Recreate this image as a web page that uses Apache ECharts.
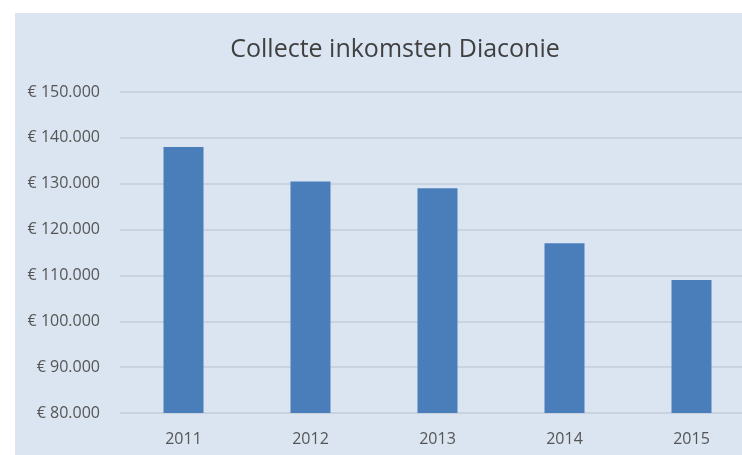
<!DOCTYPE html>
<html>
<head>
<meta charset="utf-8">
<script src="https://cdn.jsdelivr.net/npm/echarts@6/dist/echarts.min.js"></script>
<style>
html,body{margin:0;padding:0;background:#fff;}
#wrap{position:relative;width:742px;height:455px;overflow:hidden;background:#fff;}
#chart{position:absolute;left:15px;top:13px;width:760px;height:442px;}
</style>
</head>
<body>
<div id="wrap"><div id="chart"></div></div>
<script>
const title = 'Collecte inkomsten Diaconie';
const categories = ['2011', '2012', '2013', '2014', '2015'];
const values = [138000, 130500, 129000, 117000, 109000];
const yMin = 80000, yMax = 150000, yStep = 10000;

function euro(v) {
  const s = String(Math.round(v)).replace(/\B(?=(\d{3})+(?!\d))/g, '.');
  return '€ ' + s;
}

const chart = echarts.init(document.getElementById('chart'));
chart.setOption({
  backgroundColor: '#dae5f1',
  animation: false,
  title: {
    text: title,
    left: 'center',
    top: 19,
    textStyle: { fontFamily: 'Open Sans', fontSize: 25, fontWeight: 'normal', color: '#404040' }
  },
  grid: { left: 105, width: 635, top: 79, height: 321 },
  xAxis: {
    type: 'category',
    data: categories,
    axisLine: { show: false },
    axisTick: { show: false },
    axisLabel: { margin: 18, fontFamily: 'Open Sans', fontSize: 16, color: '#555555' }
  },
  yAxis: {
    type: 'value',
    min: yMin, max: yMax, interval: yStep,
    axisLine: { show: false },
    axisTick: { show: false },
    splitLine: { lineStyle: { color: '#c8d3df', width: 2 } },
    axisLabel: { margin: 20, fontFamily: 'Open Sans', fontSize: 16, color: '#555555', formatter: euro }
  },
  series: [{
    type: 'bar',
    data: values,
    barWidth: 40,
    itemStyle: { color: '#4a7ebb' }
  }]
});
</script>
</body>
</html>
